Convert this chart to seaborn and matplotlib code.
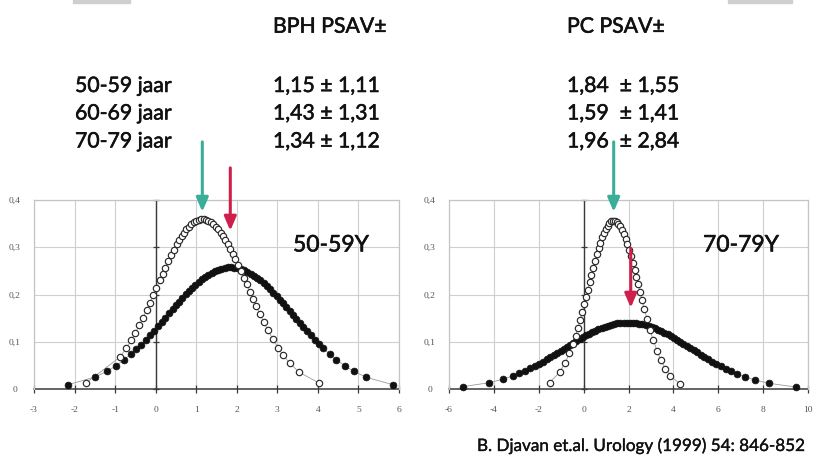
import numpy as np
import pandas as pd
import matplotlib
matplotlib.use("Agg")
import matplotlib.pyplot as plt
import matplotlib.patheffects as pe
import seaborn as sns

# ---------------- data ----------------
age_groups = ["50-59 jaar", "60-69 jaar", "70-79 jaar"]
bph_psav = ["1,15 ± 1,11", "1,43 ± 1,31", "1,34 ± 1,12"]
pc_psav = ["1,84  ± 1,55", "1,59  ± 1,41", "1,96  ± 2,84"]

# left panel 50-59Y : open = BPH, filled = PC
l_open_x = [-1.72, -0.88, -0.72, -0.60, -0.50, -0.40, -0.31, -0.22, -0.14, -0.06, 0.02, 0.10,
            0.17, 0.24, 0.31, 0.38, 0.45, 0.52, 0.58, 0.64, 0.70, 0.76, 0.82, 0.88, 0.94, 1.00,
            1.06, 1.12, 1.18, 1.24, 1.30, 1.36, 1.42, 1.48, 1.54, 1.60, 1.66, 1.72, 1.78, 1.84,
            1.90, 1.96, 2.03, 2.10, 2.17, 2.24, 2.32, 2.40, 2.48, 2.57, 2.66, 2.76, 2.89, 3.02,
            3.14, 3.31, 3.53, 4.03]
l_open_y = [0.0127, 0.0675, 0.0869, 0.1037, 0.1191, 0.1356, 0.1513, 0.1678, 0.1829, 0.1984,
            0.2141, 0.2298, 0.2434, 0.2568, 0.2699, 0.2826, 0.2946, 0.3059, 0.3150, 0.3234,
            0.3310, 0.3379, 0.3439, 0.3489, 0.3530, 0.3561, 0.3582, 0.3593, 0.3593, 0.3582,
            0.3561, 0.3530, 0.3489, 0.3439, 0.3379, 0.3310, 0.3234, 0.3150, 0.3059, 0.2963,
            0.2860, 0.2754, 0.2625, 0.2492, 0.2356, 0.2219, 0.2062, 0.1906, 0.1753, 0.1586,
            0.1425, 0.1255, 0.1052, 0.0869, 0.0721, 0.0541, 0.0361, 0.0124]
l_fill_x = [-2.15, -1.50, -1.21, -0.98, -0.78, -0.62, -0.48, -0.36, -0.25, -0.14, -0.04, 0.06,
            0.15, 0.24, 0.33, 0.42, 0.50, 0.58, 0.66, 0.74, 0.82, 0.90, 0.98, 1.06, 1.14, 1.22,
            1.30, 1.38, 1.46, 1.54, 1.62, 1.70, 1.78, 1.86, 1.94, 2.02, 2.10, 2.18, 2.26, 2.34,
            2.42, 2.50, 2.58, 2.66, 2.74, 2.82, 2.90, 2.98, 3.06, 3.14, 3.22, 3.30, 3.38, 3.46,
            3.55, 3.64, 3.73, 3.82, 3.92, 4.02, 4.13, 4.29, 4.45, 4.66, 4.88, 5.19, 5.85]
l_fill_y = [0.0094, 0.0253, 0.0371, 0.0492, 0.0617, 0.0731, 0.0840, 0.0940, 0.1037, 0.1138,
            0.1233, 0.1331, 0.1421, 0.1511, 0.1602, 0.1692, 0.1771, 0.1850, 0.1926, 0.2001,
            0.2073, 0.2142, 0.2207, 0.2268, 0.2324, 0.2376, 0.2422, 0.2463, 0.2498, 0.2526,
            0.2548, 0.2563, 0.2572, 0.2574, 0.2569, 0.2557, 0.2538, 0.2513, 0.2481, 0.2444,
            0.2400, 0.2351, 0.2297, 0.2238, 0.2175, 0.2108, 0.2038, 0.1964, 0.1887, 0.1810,
            0.1731, 0.1651, 0.1571, 0.1490, 0.1400, 0.1311, 0.1224, 0.1138, 0.1046, 0.0958,
            0.0864, 0.0737, 0.0623, 0.0492, 0.0376, 0.0249, 0.0091]

# right panel 70-79Y : open = BPH, filled = PC
r_open_x = [-1.52, -1.07, -0.82, -0.63, -0.48, -0.36, -0.25, -0.15, -0.06, 0.03, 0.11, 0.19,
            0.27, 0.35, 0.43, 0.51, 0.59, 0.67, 0.75, 0.83, 0.91, 0.99, 1.07, 1.15, 1.23, 1.31,
            1.39, 1.47, 1.55, 1.63, 1.71, 1.79, 1.87, 1.95, 2.03, 2.11, 2.19, 2.27, 2.35, 2.43,
            2.51, 2.60, 2.70, 2.82, 2.96, 3.10, 3.27, 3.45, 3.64, 3.87, 4.28]
r_open_y = [0.0137, 0.0352, 0.0555, 0.0758, 0.0951, 0.1126, 0.1300, 0.1470, 0.1631, 0.1797,
            0.1949, 0.2103, 0.2257, 0.2410, 0.2561, 0.2707, 0.2847, 0.2979, 0.3100, 0.3211,
            0.3309, 0.3392, 0.3460, 0.3511, 0.3545, 0.3561, 0.3558, 0.3538, 0.3500, 0.3445,
            0.3373, 0.3286, 0.3185, 0.3071, 0.2945, 0.2812, 0.2671, 0.2523, 0.2371, 0.2218,
            0.2063, 0.1891, 0.1703, 0.1487, 0.1249, 0.1038, 0.0808, 0.0604, 0.0432, 0.0278,
            0.0113]
r_fill_x = [-5.36, -4.20, -3.58, -3.16, -2.86, -2.60, -2.38, -2.18, -2.00, -1.82, -1.65, -1.49,
            -1.33, -1.18, -1.03, -0.88, -0.74, -0.60, -0.46, -0.32, -0.18, -0.04, 0.10, 0.24,
            0.38, 0.52, 0.66, 0.80, 0.94, 1.08, 1.22, 1.36, 1.50, 1.64, 1.78, 1.92, 2.06, 2.20,
            2.34, 2.48, 2.62, 2.76, 2.90, 3.04, 3.18, 3.32, 3.46, 3.60, 3.74, 3.88, 4.02, 4.16,
            4.30, 4.45, 4.60, 4.75, 4.90, 5.06, 5.22, 5.38, 5.55, 5.73, 5.92, 6.12, 6.34, 6.58,
            6.84, 7.21, 7.66, 8.25, 9.45]
r_fill_y = [0.0051, 0.0134, 0.0210, 0.0277, 0.0333, 0.0387, 0.0437, 0.0486, 0.0532, 0.0579,
            0.0626, 0.0672, 0.0718, 0.0762, 0.0807, 0.0852, 0.0894, 0.0936, 0.0977, 0.1018,
            0.1058, 0.1096, 0.1134, 0.1170, 0.1204, 0.1236, 0.1265, 0.1293, 0.1317, 0.1339,
            0.1358, 0.1374, 0.1387, 0.1396, 0.1402, 0.1405, 0.1404, 0.1400, 0.1392, 0.1382,
            0.1368, 0.1350, 0.1330, 0.1307, 0.1281, 0.1253, 0.1222, 0.1189, 0.1155, 0.1118,
            0.1080, 0.1041, 0.1000, 0.0956, 0.0912, 0.0867, 0.0822, 0.0774, 0.0727, 0.0680,
            0.0632, 0.0582, 0.0532, 0.0480, 0.0427, 0.0374, 0.0321, 0.0254, 0.0187, 0.0121,
            0.0043]

# arrows (mean markers): x, y_start, y_end, colour
l_arrows = [(1.15, 0.523, 0.375, "#3aae98"), (1.84, 0.468, 0.335, "#cf1f4b")]
r_arrows = [(1.34, 0.523, 0.375, "#3aae98"), (2.1, 0.298, 0.172, "#cf1f4b")]

l_xticks = [-3, -2, -1, 0, 1, 2, 3, 4, 5, 6]
r_xticks = [-6, -4, -2, 0, 2, 4, 6, 8, 10]
yticks = [0, 0.1, 0.2, 0.3, 0.4]
ytick_labels = ["0", "0,1", "0,2", "0,3", "0,4"]
panel_labels = ["50-59Y", "70-79Y"]
citation = "B. Djavan et.al. Urology (1999) 54: 846-852"

# ---------------- drawing ----------------
sns.set_theme(style="white")
plt.rcParams["font.family"] = ["Lato", "DejaVu Sans"]

W, H = 814, 459
fig = plt.figure(figsize=(W / 100, H / 100), dpi=100)
fig.patch.set_facecolor("white")
bold_fx = [pe.withStroke(linewidth=0.4, foreground="#111111")]


def px_axes(x0, x1, ytop, ybot):
    return fig.add_axes([x0 / W, 1 - ybot / H, (x1 - x0) / W, (ybot - ytop) / H])


axL = px_axes(34, 399, 200, 389)
axR = px_axes(449, 808, 200, 389)

panels = [
    (axL, l_open_x, l_open_y, l_fill_x, l_fill_y, l_xticks, l_arrows, panel_labels[0], 293),
    (axR, r_open_x, r_open_y, r_fill_x, r_fill_y, r_xticks, r_arrows, panel_labels[1], 703),
]

serif = ["Liberation Serif", "DejaVu Serif"]
for ax, ox, oy, fx, fy, xt, arrows, lab, labx in panels:
    ax.set_facecolor("white")
    ax.set_xlim(xt[0], xt[-1])
    ax.set_ylim(0, 0.4)
    ax.set_xticks(xt)
    ax.set_xticklabels([str(v) for v in xt], family=serif, fontsize=6.8, color="#555555")
    ax.set_yticks(yticks)
    ax.set_yticklabels(ytick_labels, family=serif, fontsize=6.8, color="#555555", ha="center")
    ax.tick_params(axis="x", length=0, pad=12)
    ax.tick_params(axis="y", length=0, pad=14)
    ax.grid(True, color="#cfcfcf", lw=0.8)
    ax.set_axisbelow(True)
    for s in ax.spines.values():
        s.set_color("#c4c4c4")
        s.set_linewidth(0.9)
    ax.spines["bottom"].set_visible(False)
    # axes through origin
    ax.axhline(0, color="#3a3a3a", lw=1.1, zorder=2, clip_on=False)
    ax.axvline(0, color="#3a3a3a", lw=1.0, zorder=2)
    ax.plot(xt, [0] * len(xt), ls="none", marker="|", ms=6, mew=0.9, color="#3a3a3a",
            zorder=2, clip_on=False)
    ax.plot([0] * len(yticks), yticks, ls="none", marker="_", ms=5, mew=0.9, color="#3a3a3a",
            zorder=2, clip_on=False)

    dfo = pd.DataFrame({"x": ox, "y": oy})
    dff = pd.DataFrame({"x": fx, "y": fy})
    sns.lineplot(data=dff, x="x", y="y", sort=False, ax=ax, color="#9a9a9a", lw=0.6, zorder=3)
    sns.lineplot(data=dfo, x="x", y="y", sort=False, ax=ax, color="#9a9a9a", lw=0.6, zorder=3)
    sns.scatterplot(data=dff, x="x", y="y", ax=ax, s=24, color="#111111", edgecolor="#111111",
                    linewidth=0.5, zorder=4, clip_on=False)
    sns.scatterplot(data=dfo, x="x", y="y", ax=ax, s=21, facecolor="white", edgecolor="#2a2a2a",
                    linewidth=0.85, zorder=5, clip_on=False)
    ax.set_xlabel("")
    ax.set_ylabel("")

    for x, y0, y1, c in arrows:
        ax.annotate("", xy=(x, y1), xytext=(x, y0), xycoords="data",
                    arrowprops=dict(arrowstyle="-|>,head_length=0.7,head_width=0.3",
                                    color=c, lw=2.2, shrinkA=0, shrinkB=0),
                    annotation_clip=False, zorder=6)

    x0, x1 = ax.get_position().x0 * W, ax.get_position().x1 * W
    ax.text((labx - x0) / (x1 - x0), (389 - 251.5) / 189, lab, transform=ax.transAxes,
            fontsize=16.5, color="#111111", ha="left", va="baseline", zorder=7,
            path_effects=bold_fx)

# header and table text
txt = dict(fontsize=15.3, color="#111111", va="baseline", ha="left", path_effects=bold_fx)
fig.text(273 / W, 1 - 32.7 / H, "BPH PSAV±", **txt)
fig.text(567 / W, 1 - 32.7 / H, "PC PSAV±", **txt)
row_base = [92, 119.5, 147.5]
for ry, ag, b, p in zip(row_base, age_groups, bph_psav, pc_psav):
    fig.text(75 / W, 1 - ry / H, ag, **txt)
    fig.text(273 / W, 1 - ry / H, b, **txt)
    fig.text(567 / W, 1 - ry / H, p, **txt)

fig.text(477 / W, 1 - 451 / H, citation, fontsize=12.3, color="#111111", va="baseline",
         ha="left", path_effects=[pe.withStroke(linewidth=0.25, foreground="#111111")])

# faint grey strips at the top edge of the slide
for x0, x1 in [(73, 130), (728, 792)]:
    fig.patches.append(plt.Rectangle((x0 / W, 1 - 3 / H), (x1 - x0) / W, 3 / H,
                                     transform=fig.transFigure, color="#cfcfcf", zorder=0))

fig.savefig("out.png", dpi=100, facecolor="white")
